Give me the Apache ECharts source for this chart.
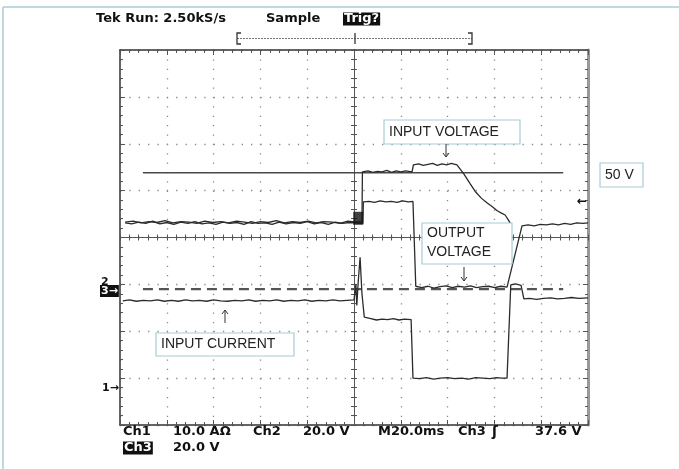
<!DOCTYPE html>
<html><head><meta charset="utf-8">
<script src="https://cdn.jsdelivr.net/npm/echarts@6/dist/echarts.min.js"></script>
<style>html,body{margin:0;padding:0;background:#fff}#c{width:679px;height:469px}</style>
</head><body><div id="c"></div><script>
// Values in screen divisions: x -5..5 (20 ms/div, trigger at 0), y -4..4
const inputVoltage = [[-4.89,0.33],[-4.72,0.35],[-4.55,0.31],[-4.38,0.34],[-4.21,0.32],[-4.04,0.36],[-3.87,0.31],[-3.70,0.34],[-3.53,0.33],[-3.36,0.30],[-3.19,0.35],[-3.02,0.32],[-2.85,0.34],[-2.68,0.31],[-2.51,0.35],[-2.34,0.33],[-2.17,0.30],[-2.00,0.34],[-1.83,0.32],[-1.66,0.36],[-1.49,0.31],[-1.32,0.34],[-1.15,0.32],[-0.98,0.35],[-0.81,0.31],[-0.64,0.34],[-0.47,0.33],[-0.30,0.30],[-0.13,0.35],[0.05,0.33],[0.17,0.34],[0.18,1.40],[0.30,1.42],[0.40,1.39],[0.50,1.41],[0.60,1.40],[0.70,1.43],[0.80,1.39],[0.90,1.42],[1.00,1.40],[1.10,1.42],[1.24,1.40],[1.27,1.55],[1.38,1.57],[1.48,1.54],[1.58,1.56],[1.68,1.58],[1.78,1.54],[1.88,1.57],[1.98,1.55],[2.08,1.58],[2.20,1.55],[2.35,1.35],[2.48,1.15],[2.60,0.97],[2.72,0.84],[2.84,0.74],[2.95,0.66],[3.06,0.57],[3.15,0.52],[3.23,0.48],[3.30,0.37],[3.36,0.27]];
const outputVoltage = [[-4.89,0.31],[-4.75,0.29],[-4.60,0.33],[-4.45,0.30],[-4.30,0.35],[-4.15,0.29],[-4.00,0.32],[-3.85,0.28],[-3.70,0.33],[-3.55,0.30],[-3.40,0.34],[-3.25,0.29],[-3.10,0.31],[-2.95,0.28],[-2.80,0.33],[-2.65,0.30],[-2.50,0.32],[-2.35,0.28],[-2.20,0.34],[-2.05,0.30],[-1.90,0.31],[-1.75,0.28],[-1.60,0.33],[-1.45,0.29],[-1.30,0.32],[-1.15,0.30],[-1.00,0.34],[-0.85,0.29],[-0.70,0.32],[-0.55,0.28],[-0.40,0.33],[-0.25,0.30],[-0.10,0.32],[0.19,0.30],[0.20,0.76],[0.32,0.77],[0.44,0.75],[0.56,0.78],[0.68,0.76],[0.80,0.77],[0.92,0.75],[1.04,0.78],[1.16,0.76],[1.26,0.77],[1.32,-1.04],[1.45,-1.07],[1.58,-1.04],[1.71,-1.08],[1.84,-1.05],[1.97,-1.03],[2.10,-1.07],[2.23,-1.04],[2.36,-1.06],[2.49,-1.03],[2.62,-1.07],[2.75,-1.05],[2.88,-1.04],[3.01,-1.07],[3.14,-1.04],[3.27,-1.06],[3.59,0.25],[3.72,0.27],[3.85,0.25],[3.98,0.28],[4.11,0.27],[4.24,0.29],[4.37,0.27],[4.50,0.30],[4.63,0.28],[4.76,0.31],[4.89,0.30],[5.00,0.31]];
const inputCurrent = [[-4.94,-1.35],[-4.80,-1.33],[-4.65,-1.36],[-4.50,-1.34],[-4.35,-1.35],[-4.20,-1.33],[-4.05,-1.36],[-3.90,-1.34],[-3.75,-1.36],[-3.60,-1.33],[-3.45,-1.35],[-3.30,-1.34],[-3.15,-1.36],[-3.00,-1.33],[-2.85,-1.35],[-2.70,-1.36],[-2.55,-1.34],[-2.40,-1.35],[-2.25,-1.33],[-2.10,-1.36],[-1.95,-1.34],[-1.80,-1.35],[-1.65,-1.33],[-1.50,-1.36],[-1.35,-1.34],[-1.20,-1.35],[-1.05,-1.33],[-0.90,-1.36],[-0.75,-1.34],[-0.60,-1.35],[-0.45,-1.33],[-0.30,-1.35],[-0.15,-1.34],[0.00,-1.33],[0.04,-1.00],[0.06,-1.45],[0.09,-0.95],[0.13,-0.42],[0.17,-1.20],[0.22,-1.70],[0.26,-1.74],[0.36,-1.73],[0.48,-1.76],[0.60,-1.74],[0.72,-1.75],[0.84,-1.73],[0.96,-1.76],[1.08,-1.74],[1.22,-1.75],[1.26,-3.00],[1.40,-3.01],[1.55,-2.99],[1.70,-3.02],[1.85,-3.00],[2.00,-2.99],[2.15,-3.01],[2.30,-3.00],[2.45,-3.02],[2.60,-2.99],[2.75,-3.00],[2.90,-3.01],[3.05,-2.99],[3.15,-3.00],[3.27,-3.00],[3.35,-1.01],[3.45,-0.99],[3.57,-1.02],[3.63,-1.31],[3.75,-1.30],[3.90,-1.32],[4.05,-1.30],[4.20,-1.29],[4.35,-1.31],[4.50,-1.30],[4.65,-1.28],[4.80,-1.30],[5.00,-1.29]];
const levelLine = [[-4.51,1.38],[4.47,1.38]];
const groundLine = [[-4.51,-1.10],[4.47,-1.10]];
const triggerBlock = [[0.09,0.41]];
const xRange = [-5, 5];
const yRange = [-4, 4];

const chart = echarts.init(document.getElementById('c'), null, {renderer:'canvas'});
const scopeFont = 'bold 13px "DejaVu Sans"';
const boxFont = '14px "Liberation Sans"';

function ax(dim, pos, onZero, inside, len, mlen, color, width, split) {
  const a = {
    type:'value', min: dim==='x'?xRange[0]:yRange[0], max: dim==='x'?xRange[1]:yRange[1], interval:1,
    position: pos,
    axisLabel:{show:false},
    axisLine:{show:true, onZero:onZero, lineStyle:{color:color, width:width}},
    axisTick:{show:true, inside:inside, length:len, lineStyle:{color:'#555', width:1}},
    minorTick:{show:true, splitNumber:5, length:mlen, lineStyle:{color:'#555', width:1}},
    splitLine:{show:!!split, lineStyle:{color:'#8a8a8a', width:1.3, type: dim==='x'?[1.3,8.075]:[1.3,8.06]}}
  };
  if (onZero) a.axisLine.onZeroAxisIndex = 0;
  return a;
}

const boxes = [
  {x:384, y:120, w:136, h:24, lines:['INPUT VOLTAGE']},
  {x:600, y:163, w:43, h:24, lines:['50 V']},
  {x:422, y:223, w:90, h:41, lines:['OUTPUT','VOLTAGE']},
  {x:156, y:333, w:138, h:23, lines:['INPUT CURRENT']}
];
const graphics = [];
graphics.push({type:'line', shape:{x1:3,y1:7,x2:679,y2:7}, style:{stroke:'#a8ccd6', lineWidth:1.5}, z:100});
graphics.push({type:'line', shape:{x1:3,y1:7,x2:3,y2:469}, style:{stroke:'#a8ccd6', lineWidth:1.5}, z:100});
boxes.forEach(b => {
  graphics.push({type:'rect', shape:{x:b.x, y:b.y, width:b.w, height:b.h}, style:{fill:'#fff', stroke:'#a9cbd6', lineWidth:1.2}, z:100});
  b.lines.forEach((t,i) => {
    graphics.push({type:'text', x:b.x+5, y:b.y + (b.lines.length===1 ? b.h/2 : 10 + i*19), style:{text:t, font:boxFont, fill:'#222', verticalAlign:'middle', textVerticalAlign:'middle'}, z:101});
  });
});
function arrow(x, y1, y2) {
  const d = y2 > y1 ? -1 : 1;
  graphics.push({type:'line', shape:{x1:x,y1:y1,x2:x,y2:y2}, style:{stroke:'#333', lineWidth:1}, z:101});
  graphics.push({type:'polyline', shape:{points:[[x-3,y2+4*d],[x,y2],[x+3,y2+4*d]]}, style:{stroke:'#333', lineWidth:1, fill:null}, z:101});
}
arrow(446, 144, 157);
arrow(464, 267, 281);
arrow(225, 323, 310);
// header
function txt(x, y, t, extra) {
  graphics.push(Object.assign({type:'text', x:x, y:y, style:Object.assign({text:t, font:scopeFont, fill:'#111', verticalAlign:'middle', textVerticalAlign:'middle'}, extra||{})}, {z:102}));
}
txt(96, 19, 'Tek Run: 2.50kS/s');
txt(266, 19, 'Sample');
txt(343, 19, 'Trig?', {fill:'#fff', backgroundColor:'#111', padding:[0,1,0,1]});
graphics.push({type:'line', shape:{x1:237,y1:38.5,x2:472,y2:38.5}, style:{stroke:'#777', lineWidth:1, lineDash:[2,1]}, z:100});
graphics.push({type:'polyline', shape:{points:[[241,33],[237,33],[237,44],[241,44]]}, style:{stroke:'#333', lineWidth:1.3, fill:null}, z:100});
graphics.push({type:'polyline', shape:{points:[[468,33],[472,33],[472,44],[468,44]]}, style:{stroke:'#333', lineWidth:1.3, fill:null}, z:100});
graphics.push({type:'line', shape:{x1:355,y1:33,x2:355,y2:44}, style:{stroke:'#333', lineWidth:1.3}, z:100});
// footer
txt(123, 432, 'Ch1');
txt(173, 432, '10.0 AΩ');
txt(253, 432, 'Ch2');
txt(303, 432, '20.0 V');
txt(378, 432, 'M20.0ms');
txt(458, 432, 'Ch3');
txt(492, 432, '\u0283', {font:'bold 14px "DejaVu Sans"'});
txt(535, 432, '37.6 V');
txt(123, 448, 'Ch3', {fill:'#fff', backgroundColor:'#111', padding:[0,1,0,1]});
txt(173, 448, '20.0 V');
// channel markers
txt(101, 282, '2', {font:'bold 11px "DejaVu Sans"'});
txt(100, 291, '3\u2192', {fill:'#fff', backgroundColor:'#111', font:'bold 11px "DejaVu Sans"', padding:[1,1,0,1]});
txt(102, 388, '1\u2192', {font:'bold 11px "DejaVu Sans"'});
txt(577, 202, '\u2190', {font:'bold 12px "DejaVu Sans"'});

const lineSty = {color:'#2b2b2b', width:1.3};
chart.setOption({
  animation:false,
  backgroundColor:'#fff',
  grid:{left:120, top:50, width:468, height:375, containLabel:false},
  xAxis:[
    ax('x','bottom',false,true,5,3,'#333',1.5,true),
    ax('x','top',false,true,5,3,'#333',1.5,false),
    ax('x','bottom',true,false,3,3,'#555',1,false),
    ax('x','top',true,false,3,3,'#555',1,false)
  ],
  yAxis:[
    ax('y','left',false,true,5,3,'#333',1.5,true),
    ax('y','right',false,true,5,3,'#999',3,false),
    ax('y','left',true,false,3,3,'#555',1,false),
    ax('y','right',true,false,3,3,'#555',1,false)
  ],
  series:[
    {name:'Level', type:'line', data:levelLine, showSymbol:false, lineStyle:{color:'#4a4a4a', width:1.6}, z:3},
    {name:'Ground', type:'line', data:groundLine, showSymbol:false, lineStyle:{color:'#555', width:2.2, type:[10,6]}, z:3},
    {name:'Input voltage', type:'line', data:inputVoltage, showSymbol:false, lineStyle:lineSty, z:4},
    {name:'Output voltage', type:'line', data:outputVoltage, showSymbol:false, lineStyle:lineSty, z:4},
    {name:'Input current', type:'line', data:inputCurrent, showSymbol:false, lineStyle:lineSty, z:4},
    {name:'Trigger', type:'scatter', data:triggerBlock, symbol:'rect', symbolSize:[10,13], itemStyle:{color:'#111'}, z:5}
  ],
  graphic:{elements:graphics}
});
</script></body></html>
